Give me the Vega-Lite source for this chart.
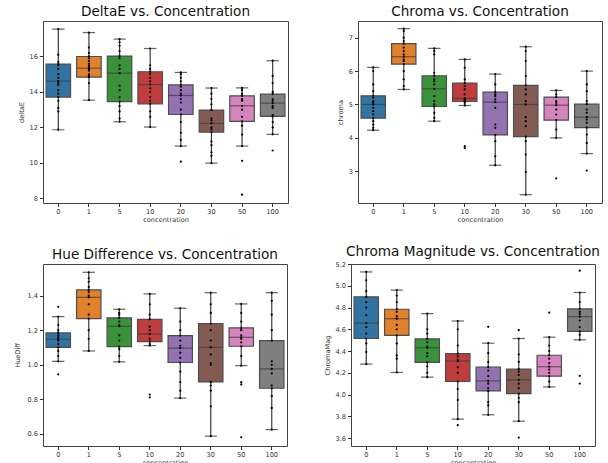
{
  "$schema": "https://vega.github.io/schema/vega-lite/v6.json",
  "padding": {"left": 13, "top": 4, "right": 0, "bottom": 0},
  "background": "white",
  "datasets": {
    "boxes": [
      {"m": "deltaE", "c": "0", "lo": 11.87, "q1": 13.71, "med": 14.61, "q3": 15.57, "hi": 17.54},
      {"m": "deltaE", "c": "1", "lo": 13.54, "q1": 14.84, "med": 15.34, "q3": 16.0, "hi": 17.35},
      {"m": "deltaE", "c": "5", "lo": 12.32, "q1": 13.46, "med": 15.06, "q3": 16.02, "hi": 16.98},
      {"m": "deltaE", "c": "10", "lo": 12.02, "q1": 13.33, "med": 14.42, "q3": 15.14, "hi": 16.45},
      {"m": "deltaE", "c": "20", "lo": 10.95, "q1": 12.73, "med": 13.8, "q3": 14.4, "hi": 15.1},
      {"m": "deltaE", "c": "30", "lo": 9.99, "q1": 11.74, "med": 12.23, "q3": 12.98, "hi": 14.22},
      {"m": "deltaE", "c": "50", "lo": 10.95, "q1": 12.34, "med": 13.22, "q3": 13.78, "hi": 14.23},
      {"m": "deltaE", "c": "100", "lo": 11.61, "q1": 12.62, "med": 13.37, "q3": 13.88, "hi": 15.76},
      {"m": "chroma", "c": "0", "lo": 4.23, "q1": 4.59, "med": 5.0, "q3": 5.26, "hi": 6.11},
      {"m": "chroma", "c": "1", "lo": 5.45, "q1": 6.21, "med": 6.43, "q3": 6.82, "hi": 7.27},
      {"m": "chroma", "c": "5", "lo": 4.5, "q1": 4.94, "med": 5.47, "q3": 5.86, "hi": 6.68},
      {"m": "chroma", "c": "10", "lo": 4.97, "q1": 5.09, "med": 5.18, "q3": 5.64, "hi": 6.35},
      {"m": "chroma", "c": "20", "lo": 3.18, "q1": 4.09, "med": 5.07, "q3": 5.37, "hi": 5.91},
      {"m": "chroma", "c": "30", "lo": 2.3, "q1": 4.04, "med": 5.0, "q3": 5.57, "hi": 6.73},
      {"m": "chroma", "c": "50", "lo": 4.0, "q1": 4.53, "med": 4.98, "q3": 5.22, "hi": 5.42},
      {"m": "chroma", "c": "100", "lo": 3.53, "q1": 4.31, "med": 4.62, "q3": 5.01, "hi": 6.0},
      {"m": "hue", "c": "0", "lo": 1.02, "q1": 1.101, "med": 1.148, "q3": 1.184, "hi": 1.279},
      {"m": "hue", "c": "1", "lo": 1.08, "q1": 1.267, "med": 1.39, "q3": 1.433, "hi": 1.535},
      {"m": "hue", "c": "5", "lo": 1.017, "q1": 1.105, "med": 1.223, "q3": 1.271, "hi": 1.321},
      {"m": "hue", "c": "10", "lo": 1.111, "q1": 1.134, "med": 1.178, "q3": 1.263, "hi": 1.41},
      {"m": "hue", "c": "20", "lo": 0.807, "q1": 1.013, "med": 1.096, "q3": 1.169, "hi": 1.327},
      {"m": "hue", "c": "30", "lo": 0.587, "q1": 0.901, "med": 1.101, "q3": 1.238, "hi": 1.417},
      {"m": "hue", "c": "50", "lo": 0.995, "q1": 1.107, "med": 1.159, "q3": 1.213, "hi": 1.352},
      {"m": "hue", "c": "100", "lo": 0.625, "q1": 0.864, "med": 0.976, "q3": 1.14, "hi": 1.417},
      {"m": "cmag", "c": "0", "lo": 4.28, "q1": 4.515, "med": 4.657, "q3": 4.898, "hi": 5.127},
      {"m": "cmag", "c": "1", "lo": 4.203, "q1": 4.543, "med": 4.697, "q3": 4.784, "hi": 4.96},
      {"m": "cmag", "c": "5", "lo": 4.16, "q1": 4.296, "med": 4.429, "q3": 4.512, "hi": 4.744},
      {"m": "cmag", "c": "10", "lo": 3.774, "q1": 4.12, "med": 4.308, "q3": 4.376, "hi": 4.676},
      {"m": "cmag", "c": "20", "lo": 3.814, "q1": 4.033, "med": 4.126, "q3": 4.253, "hi": 4.472},
      {"m": "cmag", "c": "30", "lo": 3.755, "q1": 4.008, "med": 4.135, "q3": 4.234, "hi": 4.515},
      {"m": "cmag", "c": "50", "lo": 4.07, "q1": 4.169, "med": 4.256, "q3": 4.361, "hi": 4.527},
      {"m": "cmag", "c": "100", "lo": 4.503, "q1": 4.58, "med": 4.716, "q3": 4.787, "hi": 4.938}
    ],
    "pts": [
      {"m":"deltaE","c":"0","v":11.87},{"m":"deltaE","c":"0","v":12.9},{"m":"deltaE","c":"0","v":13.1},{"m":"deltaE","c":"0","v":13.5},{"m":"deltaE","c":"0","v":13.71},{"m":"deltaE","c":"0","v":13.9},{"m":"deltaE","c":"0","v":14.1},{"m":"deltaE","c":"0","v":14.4},{"m":"deltaE","c":"0","v":14.5},{"m":"deltaE","c":"0","v":14.61},{"m":"deltaE","c":"0","v":14.8},{"m":"deltaE","c":"0","v":15.0},{"m":"deltaE","c":"0","v":15.3},{"m":"deltaE","c":"0","v":15.5},{"m":"deltaE","c":"0","v":15.57},{"m":"deltaE","c":"0","v":15.7},{"m":"deltaE","c":"0","v":16.1},{"m":"deltaE","c":"0","v":17.54},
      {"m":"deltaE","c":"1","v":13.54},{"m":"deltaE","c":"1","v":14.5},{"m":"deltaE","c":"1","v":14.84},{"m":"deltaE","c":"1","v":14.9},{"m":"deltaE","c":"1","v":15.0},{"m":"deltaE","c":"1","v":15.2},{"m":"deltaE","c":"1","v":15.3},{"m":"deltaE","c":"1","v":15.34},{"m":"deltaE","c":"1","v":15.4},{"m":"deltaE","c":"1","v":15.5},{"m":"deltaE","c":"1","v":15.6},{"m":"deltaE","c":"1","v":15.75},{"m":"deltaE","c":"1","v":15.9},{"m":"deltaE","c":"1","v":16.0},{"m":"deltaE","c":"1","v":16.2},{"m":"deltaE","c":"1","v":16.5},{"m":"deltaE","c":"1","v":17.35},
      {"m":"deltaE","c":"5","v":12.32},{"m":"deltaE","c":"5","v":12.5},{"m":"deltaE","c":"5","v":12.9},{"m":"deltaE","c":"5","v":13.2},{"m":"deltaE","c":"5","v":13.46},{"m":"deltaE","c":"5","v":13.7},{"m":"deltaE","c":"5","v":14.1},{"m":"deltaE","c":"5","v":14.35},{"m":"deltaE","c":"5","v":15.06},{"m":"deltaE","c":"5","v":15.3},{"m":"deltaE","c":"5","v":15.5},{"m":"deltaE","c":"5","v":15.9},{"m":"deltaE","c":"5","v":16.02},{"m":"deltaE","c":"5","v":16.3},{"m":"deltaE","c":"5","v":16.6},{"m":"deltaE","c":"5","v":16.8},{"m":"deltaE","c":"5","v":16.98},
      {"m":"deltaE","c":"10","v":12.02},{"m":"deltaE","c":"10","v":12.6},{"m":"deltaE","c":"10","v":12.9},{"m":"deltaE","c":"10","v":13.33},{"m":"deltaE","c":"10","v":13.5},{"m":"deltaE","c":"10","v":13.7},{"m":"deltaE","c":"10","v":14.0},{"m":"deltaE","c":"10","v":14.2},{"m":"deltaE","c":"10","v":14.42},{"m":"deltaE","c":"10","v":14.6},{"m":"deltaE","c":"10","v":14.8},{"m":"deltaE","c":"10","v":15.0},{"m":"deltaE","c":"10","v":15.14},{"m":"deltaE","c":"10","v":15.3},{"m":"deltaE","c":"10","v":15.5},{"m":"deltaE","c":"10","v":16.45},
      {"m":"deltaE","c":"20","v":10.07},{"m":"deltaE","c":"20","v":10.95},{"m":"deltaE","c":"20","v":11.3},{"m":"deltaE","c":"20","v":11.7},{"m":"deltaE","c":"20","v":12.3},{"m":"deltaE","c":"20","v":12.73},{"m":"deltaE","c":"20","v":13.0},{"m":"deltaE","c":"20","v":13.4},{"m":"deltaE","c":"20","v":13.6},{"m":"deltaE","c":"20","v":13.8},{"m":"deltaE","c":"20","v":13.9},{"m":"deltaE","c":"20","v":14.1},{"m":"deltaE","c":"20","v":14.3},{"m":"deltaE","c":"20","v":14.4},{"m":"deltaE","c":"20","v":14.6},{"m":"deltaE","c":"20","v":14.8},{"m":"deltaE","c":"20","v":15.0},{"m":"deltaE","c":"20","v":15.1},
      {"m":"deltaE","c":"30","v":9.99},{"m":"deltaE","c":"30","v":10.4},{"m":"deltaE","c":"30","v":10.6},{"m":"deltaE","c":"30","v":11.0},{"m":"deltaE","c":"30","v":11.2},{"m":"deltaE","c":"30","v":11.74},{"m":"deltaE","c":"30","v":11.9},{"m":"deltaE","c":"30","v":12.0},{"m":"deltaE","c":"30","v":12.23},{"m":"deltaE","c":"30","v":12.4},{"m":"deltaE","c":"30","v":12.5},{"m":"deltaE","c":"30","v":12.98},{"m":"deltaE","c":"30","v":13.3},{"m":"deltaE","c":"30","v":13.6},{"m":"deltaE","c":"30","v":13.9},{"m":"deltaE","c":"30","v":14.22},
      {"m":"deltaE","c":"50","v":8.21},{"m":"deltaE","c":"50","v":10.12},{"m":"deltaE","c":"50","v":10.95},{"m":"deltaE","c":"50","v":11.6},{"m":"deltaE","c":"50","v":12.1},{"m":"deltaE","c":"50","v":12.34},{"m":"deltaE","c":"50","v":12.6},{"m":"deltaE","c":"50","v":13.0},{"m":"deltaE","c":"50","v":13.22},{"m":"deltaE","c":"50","v":13.5},{"m":"deltaE","c":"50","v":13.6},{"m":"deltaE","c":"50","v":13.78},{"m":"deltaE","c":"50","v":13.9},{"m":"deltaE","c":"50","v":14.1},{"m":"deltaE","c":"50","v":14.23},
      {"m":"deltaE","c":"100","v":10.7},{"m":"deltaE","c":"100","v":11.61},{"m":"deltaE","c":"100","v":12.0},{"m":"deltaE","c":"100","v":12.3},{"m":"deltaE","c":"100","v":12.62},{"m":"deltaE","c":"100","v":12.7},{"m":"deltaE","c":"100","v":13.1},{"m":"deltaE","c":"100","v":13.2},{"m":"deltaE","c":"100","v":13.37},{"m":"deltaE","c":"100","v":13.5},{"m":"deltaE","c":"100","v":13.6},{"m":"deltaE","c":"100","v":13.88},{"m":"deltaE","c":"100","v":14.0},{"m":"deltaE","c":"100","v":14.5},{"m":"deltaE","c":"100","v":14.9},{"m":"deltaE","c":"100","v":15.76},
      {"m":"chroma","c":"0","v":4.23},{"m":"chroma","c":"0","v":4.3},{"m":"chroma","c":"0","v":4.4},{"m":"chroma","c":"0","v":4.5},{"m":"chroma","c":"0","v":4.59},{"m":"chroma","c":"0","v":4.7},{"m":"chroma","c":"0","v":4.8},{"m":"chroma","c":"0","v":4.9},{"m":"chroma","c":"0","v":5.0},{"m":"chroma","c":"0","v":5.05},{"m":"chroma","c":"0","v":5.1},{"m":"chroma","c":"0","v":5.2},{"m":"chroma","c":"0","v":5.26},{"m":"chroma","c":"0","v":5.4},{"m":"chroma","c":"0","v":5.6},{"m":"chroma","c":"0","v":6.0},{"m":"chroma","c":"0","v":6.11},
      {"m":"chroma","c":"1","v":5.45},{"m":"chroma","c":"1","v":5.55},{"m":"chroma","c":"1","v":5.75},{"m":"chroma","c":"1","v":6.0},{"m":"chroma","c":"1","v":6.21},{"m":"chroma","c":"1","v":6.3},{"m":"chroma","c":"1","v":6.35},{"m":"chroma","c":"1","v":6.43},{"m":"chroma","c":"1","v":6.5},{"m":"chroma","c":"1","v":6.6},{"m":"chroma","c":"1","v":6.7},{"m":"chroma","c":"1","v":6.82},{"m":"chroma","c":"1","v":6.9},{"m":"chroma","c":"1","v":7.0},{"m":"chroma","c":"1","v":7.2},{"m":"chroma","c":"1","v":7.27},
      {"m":"chroma","c":"5","v":4.5},{"m":"chroma","c":"5","v":4.6},{"m":"chroma","c":"5","v":4.75},{"m":"chroma","c":"5","v":4.94},{"m":"chroma","c":"5","v":5.0},{"m":"chroma","c":"5","v":5.1},{"m":"chroma","c":"5","v":5.25},{"m":"chroma","c":"5","v":5.47},{"m":"chroma","c":"5","v":5.6},{"m":"chroma","c":"5","v":5.7},{"m":"chroma","c":"5","v":5.75},{"m":"chroma","c":"5","v":5.86},{"m":"chroma","c":"5","v":5.95},{"m":"chroma","c":"5","v":6.5},{"m":"chroma","c":"5","v":6.6},{"m":"chroma","c":"5","v":6.68},
      {"m":"chroma","c":"10","v":3.69},{"m":"chroma","c":"10","v":3.75},{"m":"chroma","c":"10","v":4.97},{"m":"chroma","c":"10","v":5.05},{"m":"chroma","c":"10","v":5.09},{"m":"chroma","c":"10","v":5.12},{"m":"chroma","c":"10","v":5.15},{"m":"chroma","c":"10","v":5.18},{"m":"chroma","c":"10","v":5.3},{"m":"chroma","c":"10","v":5.45},{"m":"chroma","c":"10","v":5.55},{"m":"chroma","c":"10","v":5.64},{"m":"chroma","c":"10","v":5.75},{"m":"chroma","c":"10","v":6.1},{"m":"chroma","c":"10","v":6.35},
      {"m":"chroma","c":"20","v":3.18},{"m":"chroma","c":"20","v":3.45},{"m":"chroma","c":"20","v":3.9},{"m":"chroma","c":"20","v":4.09},{"m":"chroma","c":"20","v":4.3},{"m":"chroma","c":"20","v":4.4},{"m":"chroma","c":"20","v":4.9},{"m":"chroma","c":"20","v":5.07},{"m":"chroma","c":"20","v":5.15},{"m":"chroma","c":"20","v":5.25},{"m":"chroma","c":"20","v":5.3},{"m":"chroma","c":"20","v":5.37},{"m":"chroma","c":"20","v":5.6},{"m":"chroma","c":"20","v":5.91},
      {"m":"chroma","c":"30","v":2.3},{"m":"chroma","c":"30","v":2.98},{"m":"chroma","c":"30","v":3.5},{"m":"chroma","c":"30","v":3.9},{"m":"chroma","c":"30","v":4.04},{"m":"chroma","c":"30","v":4.35},{"m":"chroma","c":"30","v":4.5},{"m":"chroma","c":"30","v":4.62},{"m":"chroma","c":"30","v":5.0},{"m":"chroma","c":"30","v":5.1},{"m":"chroma","c":"30","v":5.3},{"m":"chroma","c":"30","v":5.45},{"m":"chroma","c":"30","v":5.57},{"m":"chroma","c":"30","v":5.85},{"m":"chroma","c":"30","v":6.3},{"m":"chroma","c":"30","v":6.6},{"m":"chroma","c":"30","v":6.73},
      {"m":"chroma","c":"50","v":2.79},{"m":"chroma","c":"50","v":4.0},{"m":"chroma","c":"50","v":4.25},{"m":"chroma","c":"50","v":4.53},{"m":"chroma","c":"50","v":4.7},{"m":"chroma","c":"50","v":4.85},{"m":"chroma","c":"50","v":4.98},{"m":"chroma","c":"50","v":5.05},{"m":"chroma","c":"50","v":5.1},{"m":"chroma","c":"50","v":5.22},{"m":"chroma","c":"50","v":5.3},{"m":"chroma","c":"50","v":5.42},
      {"m":"chroma","c":"100","v":3.02},{"m":"chroma","c":"100","v":3.53},{"m":"chroma","c":"100","v":3.85},{"m":"chroma","c":"100","v":4.1},{"m":"chroma","c":"100","v":4.31},{"m":"chroma","c":"100","v":4.45},{"m":"chroma","c":"100","v":4.55},{"m":"chroma","c":"100","v":4.62},{"m":"chroma","c":"100","v":4.75},{"m":"chroma","c":"100","v":4.85},{"m":"chroma","c":"100","v":5.01},{"m":"chroma","c":"100","v":5.1},{"m":"chroma","c":"100","v":5.4},{"m":"chroma","c":"100","v":5.6},{"m":"chroma","c":"100","v":6.0},
      {"m":"hue","c":"0","v":0.945},{"m":"hue","c":"0","v":1.02},{"m":"hue","c":"0","v":1.05},{"m":"hue","c":"0","v":1.08},{"m":"hue","c":"0","v":1.101},{"m":"hue","c":"0","v":1.12},{"m":"hue","c":"0","v":1.14},{"m":"hue","c":"0","v":1.148},{"m":"hue","c":"0","v":1.16},{"m":"hue","c":"0","v":1.17},{"m":"hue","c":"0","v":1.184},{"m":"hue","c":"0","v":1.2},{"m":"hue","c":"0","v":1.23},{"m":"hue","c":"0","v":1.279},{"m":"hue","c":"0","v":1.335},
      {"m":"hue","c":"1","v":1.08},{"m":"hue","c":"1","v":1.15},{"m":"hue","c":"1","v":1.2},{"m":"hue","c":"1","v":1.267},{"m":"hue","c":"1","v":1.29},{"m":"hue","c":"1","v":1.35},{"m":"hue","c":"1","v":1.39},{"m":"hue","c":"1","v":1.4},{"m":"hue","c":"1","v":1.42},{"m":"hue","c":"1","v":1.433},{"m":"hue","c":"1","v":1.45},{"m":"hue","c":"1","v":1.48},{"m":"hue","c":"1","v":1.5},{"m":"hue","c":"1","v":1.535},
      {"m":"hue","c":"5","v":1.017},{"m":"hue","c":"5","v":1.05},{"m":"hue","c":"5","v":1.09},{"m":"hue","c":"5","v":1.105},{"m":"hue","c":"5","v":1.14},{"m":"hue","c":"5","v":1.17},{"m":"hue","c":"5","v":1.223},{"m":"hue","c":"5","v":1.23},{"m":"hue","c":"5","v":1.25},{"m":"hue","c":"5","v":1.271},{"m":"hue","c":"5","v":1.29},{"m":"hue","c":"5","v":1.3},{"m":"hue","c":"5","v":1.321},
      {"m":"hue","c":"10","v":0.812},{"m":"hue","c":"10","v":0.828},{"m":"hue","c":"10","v":1.111},{"m":"hue","c":"10","v":1.12},{"m":"hue","c":"10","v":1.134},{"m":"hue","c":"10","v":1.15},{"m":"hue","c":"10","v":1.178},{"m":"hue","c":"10","v":1.2},{"m":"hue","c":"10","v":1.22},{"m":"hue","c":"10","v":1.263},{"m":"hue","c":"10","v":1.29},{"m":"hue","c":"10","v":1.35},{"m":"hue","c":"10","v":1.41},
      {"m":"hue","c":"20","v":0.807},{"m":"hue","c":"20","v":0.85},{"m":"hue","c":"20","v":0.9},{"m":"hue","c":"20","v":0.96},{"m":"hue","c":"20","v":1.013},{"m":"hue","c":"20","v":1.04},{"m":"hue","c":"20","v":1.07},{"m":"hue","c":"20","v":1.096},{"m":"hue","c":"20","v":1.11},{"m":"hue","c":"20","v":1.14},{"m":"hue","c":"20","v":1.169},{"m":"hue","c":"20","v":1.2},{"m":"hue","c":"20","v":1.25},{"m":"hue","c":"20","v":1.327},
      {"m":"hue","c":"30","v":0.587},{"m":"hue","c":"30","v":0.76},{"m":"hue","c":"30","v":0.85},{"m":"hue","c":"30","v":0.88},{"m":"hue","c":"30","v":0.901},{"m":"hue","c":"30","v":1.0},{"m":"hue","c":"30","v":1.01},{"m":"hue","c":"30","v":1.06},{"m":"hue","c":"30","v":1.101},{"m":"hue","c":"30","v":1.14},{"m":"hue","c":"30","v":1.2},{"m":"hue","c":"30","v":1.238},{"m":"hue","c":"30","v":1.3},{"m":"hue","c":"30","v":1.35},{"m":"hue","c":"30","v":1.417},
      {"m":"hue","c":"50","v":0.58},{"m":"hue","c":"50","v":0.886},{"m":"hue","c":"50","v":0.899},{"m":"hue","c":"50","v":0.995},{"m":"hue","c":"50","v":1.05},{"m":"hue","c":"50","v":1.107},{"m":"hue","c":"50","v":1.13},{"m":"hue","c":"50","v":1.15},{"m":"hue","c":"50","v":1.159},{"m":"hue","c":"50","v":1.17},{"m":"hue","c":"50","v":1.2},{"m":"hue","c":"50","v":1.213},{"m":"hue","c":"50","v":1.25},{"m":"hue","c":"50","v":1.3},{"m":"hue","c":"50","v":1.352},
      {"m":"hue","c":"100","v":0.625},{"m":"hue","c":"100","v":0.75},{"m":"hue","c":"100","v":0.82},{"m":"hue","c":"100","v":0.864},{"m":"hue","c":"100","v":0.88},{"m":"hue","c":"100","v":0.95},{"m":"hue","c":"100","v":0.976},{"m":"hue","c":"100","v":1.0},{"m":"hue","c":"100","v":1.02},{"m":"hue","c":"100","v":1.14},{"m":"hue","c":"100","v":1.2},{"m":"hue","c":"100","v":1.29},{"m":"hue","c":"100","v":1.37},{"m":"hue","c":"100","v":1.417},
      {"m":"cmag","c":"0","v":4.28},{"m":"cmag","c":"0","v":4.39},{"m":"cmag","c":"0","v":4.47},{"m":"cmag","c":"0","v":4.515},{"m":"cmag","c":"0","v":4.56},{"m":"cmag","c":"0","v":4.62},{"m":"cmag","c":"0","v":4.657},{"m":"cmag","c":"0","v":4.73},{"m":"cmag","c":"0","v":4.8},{"m":"cmag","c":"0","v":4.85},{"m":"cmag","c":"0","v":4.898},{"m":"cmag","c":"0","v":4.95},{"m":"cmag","c":"0","v":5.05},{"m":"cmag","c":"0","v":5.127},
      {"m":"cmag","c":"1","v":4.203},{"m":"cmag","c":"1","v":4.33},{"m":"cmag","c":"1","v":4.36},{"m":"cmag","c":"1","v":4.47},{"m":"cmag","c":"1","v":4.543},{"m":"cmag","c":"1","v":4.6},{"m":"cmag","c":"1","v":4.64},{"m":"cmag","c":"1","v":4.697},{"m":"cmag","c":"1","v":4.72},{"m":"cmag","c":"1","v":4.76},{"m":"cmag","c":"1","v":4.784},{"m":"cmag","c":"1","v":4.85},{"m":"cmag","c":"1","v":4.91},{"m":"cmag","c":"1","v":4.96},
      {"m":"cmag","c":"5","v":4.16},{"m":"cmag","c":"5","v":4.2},{"m":"cmag","c":"5","v":4.26},{"m":"cmag","c":"5","v":4.296},{"m":"cmag","c":"5","v":4.35},{"m":"cmag","c":"5","v":4.38},{"m":"cmag","c":"5","v":4.429},{"m":"cmag","c":"5","v":4.44},{"m":"cmag","c":"5","v":4.48},{"m":"cmag","c":"5","v":4.512},{"m":"cmag","c":"5","v":4.56},{"m":"cmag","c":"5","v":4.6},{"m":"cmag","c":"5","v":4.744},
      {"m":"cmag","c":"10","v":3.718},{"m":"cmag","c":"10","v":3.774},{"m":"cmag","c":"10","v":3.95},{"m":"cmag","c":"10","v":4.05},{"m":"cmag","c":"10","v":4.12},{"m":"cmag","c":"10","v":4.2},{"m":"cmag","c":"10","v":4.25},{"m":"cmag","c":"10","v":4.308},{"m":"cmag","c":"10","v":4.32},{"m":"cmag","c":"10","v":4.35},{"m":"cmag","c":"10","v":4.376},{"m":"cmag","c":"10","v":4.45},{"m":"cmag","c":"10","v":4.6},{"m":"cmag","c":"10","v":4.676},
      {"m":"cmag","c":"20","v":3.814},{"m":"cmag","c":"20","v":3.9},{"m":"cmag","c":"20","v":3.93},{"m":"cmag","c":"20","v":4.033},{"m":"cmag","c":"20","v":4.06},{"m":"cmag","c":"20","v":4.1},{"m":"cmag","c":"20","v":4.126},{"m":"cmag","c":"20","v":4.17},{"m":"cmag","c":"20","v":4.22},{"m":"cmag","c":"20","v":4.253},{"m":"cmag","c":"20","v":4.3},{"m":"cmag","c":"20","v":4.38},{"m":"cmag","c":"20","v":4.472},{"m":"cmag","c":"20","v":4.623},
      {"m":"cmag","c":"30","v":3.604},{"m":"cmag","c":"30","v":3.755},{"m":"cmag","c":"30","v":3.93},{"m":"cmag","c":"30","v":3.97},{"m":"cmag","c":"30","v":4.008},{"m":"cmag","c":"30","v":4.06},{"m":"cmag","c":"30","v":4.1},{"m":"cmag","c":"30","v":4.135},{"m":"cmag","c":"30","v":4.18},{"m":"cmag","c":"30","v":4.21},{"m":"cmag","c":"30","v":4.234},{"m":"cmag","c":"30","v":4.3},{"m":"cmag","c":"30","v":4.37},{"m":"cmag","c":"30","v":4.515},{"m":"cmag","c":"30","v":4.592},
      {"m":"cmag","c":"50","v":4.07},{"m":"cmag","c":"50","v":4.12},{"m":"cmag","c":"50","v":4.169},{"m":"cmag","c":"50","v":4.2},{"m":"cmag","c":"50","v":4.23},{"m":"cmag","c":"50","v":4.256},{"m":"cmag","c":"50","v":4.29},{"m":"cmag","c":"50","v":4.33},{"m":"cmag","c":"50","v":4.361},{"m":"cmag","c":"50","v":4.4},{"m":"cmag","c":"50","v":4.45},{"m":"cmag","c":"50","v":4.527},{"m":"cmag","c":"50","v":4.753},
      {"m":"cmag","c":"100","v":4.101},{"m":"cmag","c":"100","v":4.172},{"m":"cmag","c":"100","v":4.503},{"m":"cmag","c":"100","v":4.55},{"m":"cmag","c":"100","v":4.58},{"m":"cmag","c":"100","v":4.62},{"m":"cmag","c":"100","v":4.68},{"m":"cmag","c":"100","v":4.716},{"m":"cmag","c":"100","v":4.74},{"m":"cmag","c":"100","v":4.76},{"m":"cmag","c":"100","v":4.787},{"m":"cmag","c":"100","v":4.85},{"m":"cmag","c":"100","v":4.938},{"m":"cmag","c":"100","v":5.139}
    ]
  },
  "vconcat": [
    {
      "hconcat": [
        {
          "title": "DeltaE vs. Concentration",
          "width": 245, "height": 182,
          "layer": [
            {"data": {"name": "boxes"}, "transform": [{"filter": "datum.m == 'deltaE'"}],
             "mark": {"type": "rule", "color": "#3a3a3a", "strokeWidth": 1.2},
             "encoding": {
               "x": {"field": "c", "type": "ordinal", "sort": ["0","1","5","10","20","30","50","100"], "scale": {"domain": ["0","1","5","10","20","30","50","100"], "paddingInner": 0, "paddingOuter": 0}, "axis": {"title": "concentration", "titleColor": "#333", "labelAngle": 0, "bandPosition": 0.5, "labelPadding": 1.5, "titlePadding": 2}},
               "y": {"field": "lo", "type": "quantitative", "title": "deltaE", "scale": {"domain": [7.74, 18.0], "nice": false, "zero": false}, "axis": {"values": [8, 10, 12, 14, 16], "titlePadding": 5, "labelOverlap": false}},
               "y2": {"field": "hi"}}},
            {"data": {"name": "boxes"}, "transform": [{"filter": "datum.m == 'deltaE'"}],
             "mark": {"type": "bar", "width": {"band": 0.8}, "stroke": "#4d4d4d", "strokeWidth": 1.2},
             "encoding": {
               "x": {"field": "c", "type": "ordinal", "sort": ["0","1","5","10","20","30","50","100"]},
               "y": {"field": "q1", "type": "quantitative", "title": "deltaE"},
               "y2": {"field": "q3"},
               "color": {"field": "c", "type": "nominal", "scale": {"domain": ["0","1","5","10","20","30","50","100"], "range": ["#3274a1","#e1812c","#3a923a","#c03d3e","#9372b2","#845b53","#d684bd","#7f7f7f"]}, "legend": null}}},
            {"data": {"name": "boxes"}, "transform": [{"filter": "datum.m == 'deltaE'"}],
             "mark": {"type": "tick", "size": 24.5, "thickness": 1.2, "color": "#3a3a3a"},
             "encoding": {"x": {"field": "c", "type": "ordinal", "sort": ["0","1","5","10","20","30","50","100"]}, "y": {"field": "med", "type": "quantitative", "title": "deltaE"}}},
            {"data": {"name": "boxes"}, "transform": [{"filter": "datum.m == 'deltaE'"}],
             "mark": {"type": "tick", "size": 12.3, "thickness": 1.2, "color": "#222"},
             "encoding": {"x": {"field": "c", "type": "ordinal", "sort": ["0","1","5","10","20","30","50","100"]}, "y": {"field": "lo", "type": "quantitative", "title": "deltaE"}}},
            {"data": {"name": "boxes"}, "transform": [{"filter": "datum.m == 'deltaE'"}],
             "mark": {"type": "tick", "size": 12.3, "thickness": 1.2, "color": "#222"},
             "encoding": {"x": {"field": "c", "type": "ordinal", "sort": ["0","1","5","10","20","30","50","100"]}, "y": {"field": "hi", "type": "quantitative", "title": "deltaE"}}},
            {"data": {"name": "pts"}, "transform": [{"filter": "datum.m == 'deltaE'"}],
             "mark": {"type": "circle", "size": 5, "color": "black", "opacity": 1},
             "encoding": {"x": {"field": "c", "type": "ordinal", "sort": ["0","1","5","10","20","30","50","100"]}, "y": {"field": "v", "type": "quantitative", "title": "deltaE"}}}
          ]
        },
        {
          "title": "Chroma vs. Concentration",
          "width": 244, "height": 182,
          "layer": [
            {"data": {"name": "boxes"}, "transform": [{"filter": "datum.m == 'chroma'"}],
             "mark": {"type": "rule", "color": "#3a3a3a", "strokeWidth": 1.2},
             "encoding": {
               "x": {"field": "c", "type": "ordinal", "sort": ["0","1","5","10","20","30","50","100"], "scale": {"domain": ["0","1","5","10","20","30","50","100"], "paddingInner": 0, "paddingOuter": 0}, "axis": {"title": "concentration", "titleColor": "#333", "labelAngle": 0, "bandPosition": 0.5, "labelPadding": 1.5, "titlePadding": 2}},
               "y": {"field": "lo", "type": "quantitative", "title": "chroma", "scale": {"domain": [2.05, 7.5], "nice": false, "zero": false}, "axis": {"values": [3, 4, 5, 6, 7], "titlePadding": 5, "labelOverlap": false}},
               "y2": {"field": "hi"}}},
            {"data": {"name": "boxes"}, "transform": [{"filter": "datum.m == 'chroma'"}],
             "mark": {"type": "bar", "width": {"band": 0.8}, "stroke": "#4d4d4d", "strokeWidth": 1.2},
             "encoding": {
               "x": {"field": "c", "type": "ordinal", "sort": ["0","1","5","10","20","30","50","100"]},
               "y": {"field": "q1", "type": "quantitative", "title": "chroma"},
               "y2": {"field": "q3"},
               "color": {"field": "c", "type": "nominal", "scale": {"domain": ["0","1","5","10","20","30","50","100"], "range": ["#3274a1","#e1812c","#3a923a","#c03d3e","#9372b2","#845b53","#d684bd","#7f7f7f"]}, "legend": null}}},
            {"data": {"name": "boxes"}, "transform": [{"filter": "datum.m == 'chroma'"}],
             "mark": {"type": "tick", "size": 24.5, "thickness": 1.2, "color": "#3a3a3a"},
             "encoding": {"x": {"field": "c", "type": "ordinal", "sort": ["0","1","5","10","20","30","50","100"]}, "y": {"field": "med", "type": "quantitative", "title": "chroma"}}},
            {"data": {"name": "boxes"}, "transform": [{"filter": "datum.m == 'chroma'"}],
             "mark": {"type": "tick", "size": 12.3, "thickness": 1.2, "color": "#222"},
             "encoding": {"x": {"field": "c", "type": "ordinal", "sort": ["0","1","5","10","20","30","50","100"]}, "y": {"field": "lo", "type": "quantitative", "title": "chroma"}}},
            {"data": {"name": "boxes"}, "transform": [{"filter": "datum.m == 'chroma'"}],
             "mark": {"type": "tick", "size": 12.3, "thickness": 1.2, "color": "#222"},
             "encoding": {"x": {"field": "c", "type": "ordinal", "sort": ["0","1","5","10","20","30","50","100"]}, "y": {"field": "hi", "type": "quantitative", "title": "chroma"}}},
            {"data": {"name": "pts"}, "transform": [{"filter": "datum.m == 'chroma'"}],
             "mark": {"type": "circle", "size": 5, "color": "black", "opacity": 1},
             "encoding": {"x": {"field": "c", "type": "ordinal", "sort": ["0","1","5","10","20","30","50","100"]}, "y": {"field": "v", "type": "quantitative", "title": "chroma"}}}
          ]
        }
      ],
      "spacing": 47
    },
    {
      "hconcat": [
        {
          "title": "Hue Difference vs. Concentration",
          "width": 244, "height": 182,
          "layer": [
            {"data": {"name": "boxes"}, "transform": [{"filter": "datum.m == 'hue'"}],
             "mark": {"type": "rule", "color": "#3a3a3a", "strokeWidth": 1.2},
             "encoding": {
               "x": {"field": "c", "type": "ordinal", "sort": ["0","1","5","10","20","30","50","100"], "scale": {"domain": ["0","1","5","10","20","30","50","100"], "paddingInner": 0, "paddingOuter": 0}, "axis": {"title": "concentration", "titleColor": "#333", "labelAngle": 0, "bandPosition": 0.5, "labelPadding": 1.5, "titlePadding": 2}},
               "y": {"field": "lo", "type": "quantitative", "title": "HueDiff", "scale": {"domain": [0.53, 1.583], "nice": false, "zero": false}, "axis": {"values": [0.6, 0.8, 1.0, 1.2, 1.4], "format": ".1f", "titlePadding": 7, "labelOverlap": false}},
               "y2": {"field": "hi"}}},
            {"data": {"name": "boxes"}, "transform": [{"filter": "datum.m == 'hue'"}],
             "mark": {"type": "bar", "width": {"band": 0.8}, "stroke": "#4d4d4d", "strokeWidth": 1.2},
             "encoding": {
               "x": {"field": "c", "type": "ordinal", "sort": ["0","1","5","10","20","30","50","100"]},
               "y": {"field": "q1", "type": "quantitative", "title": "HueDiff"},
               "y2": {"field": "q3"},
               "color": {"field": "c", "type": "nominal", "scale": {"domain": ["0","1","5","10","20","30","50","100"], "range": ["#3274a1","#e1812c","#3a923a","#c03d3e","#9372b2","#845b53","#d684bd","#7f7f7f"]}, "legend": null}}},
            {"data": {"name": "boxes"}, "transform": [{"filter": "datum.m == 'hue'"}],
             "mark": {"type": "tick", "size": 24.5, "thickness": 1.2, "color": "#3a3a3a"},
             "encoding": {"x": {"field": "c", "type": "ordinal", "sort": ["0","1","5","10","20","30","50","100"]}, "y": {"field": "med", "type": "quantitative", "title": "HueDiff"}}},
            {"data": {"name": "boxes"}, "transform": [{"filter": "datum.m == 'hue'"}],
             "mark": {"type": "tick", "size": 12.3, "thickness": 1.2, "color": "#222"},
             "encoding": {"x": {"field": "c", "type": "ordinal", "sort": ["0","1","5","10","20","30","50","100"]}, "y": {"field": "lo", "type": "quantitative", "title": "HueDiff"}}},
            {"data": {"name": "boxes"}, "transform": [{"filter": "datum.m == 'hue'"}],
             "mark": {"type": "tick", "size": 12.3, "thickness": 1.2, "color": "#222"},
             "encoding": {"x": {"field": "c", "type": "ordinal", "sort": ["0","1","5","10","20","30","50","100"]}, "y": {"field": "hi", "type": "quantitative", "title": "HueDiff"}}},
            {"data": {"name": "pts"}, "transform": [{"filter": "datum.m == 'hue'"}],
             "mark": {"type": "circle", "size": 5, "color": "black", "opacity": 1},
             "encoding": {"x": {"field": "c", "type": "ordinal", "sort": ["0","1","5","10","20","30","50","100"]}, "y": {"field": "v", "type": "quantitative", "title": "HueDiff"}}}
          ]
        },
        {
          "title": "Chroma Magnitude vs. Concentration",
          "width": 244, "height": 182,
          "layer": [
            {"data": {"name": "boxes"}, "transform": [{"filter": "datum.m == 'cmag'"}],
             "mark": {"type": "rule", "color": "#3a3a3a", "strokeWidth": 1.2},
             "encoding": {
               "x": {"field": "c", "type": "ordinal", "sort": ["0","1","5","10","20","30","50","100"], "scale": {"domain": ["0","1","5","10","20","30","50","100"], "paddingInner": 0, "paddingOuter": 0}, "axis": {"title": "concentration", "titleColor": "#333", "labelAngle": 0, "bandPosition": 0.5, "labelPadding": 1.5, "titlePadding": 2}},
               "y": {"field": "lo", "type": "quantitative", "title": "ChromaMag", "scale": {"domain": [3.527, 5.2], "nice": false, "zero": false}, "axis": {"values": [3.6, 3.8, 4.0, 4.2, 4.4, 4.6, 4.8, 5.0, 5.2], "tickCount": 9, "format": ".1f", "titlePadding": 5, "labelOverlap": false, "labelSeparation": 0}},
               "y2": {"field": "hi"}}},
            {"data": {"name": "boxes"}, "transform": [{"filter": "datum.m == 'cmag'"}],
             "mark": {"type": "bar", "width": {"band": 0.8}, "stroke": "#4d4d4d", "strokeWidth": 1.2},
             "encoding": {
               "x": {"field": "c", "type": "ordinal", "sort": ["0","1","5","10","20","30","50","100"]},
               "y": {"field": "q1", "type": "quantitative", "title": "ChromaMag"},
               "y2": {"field": "q3"},
               "color": {"field": "c", "type": "nominal", "scale": {"domain": ["0","1","5","10","20","30","50","100"], "range": ["#3274a1","#e1812c","#3a923a","#c03d3e","#9372b2","#845b53","#d684bd","#7f7f7f"]}, "legend": null}}},
            {"data": {"name": "boxes"}, "transform": [{"filter": "datum.m == 'cmag'"}],
             "mark": {"type": "tick", "size": 24.5, "thickness": 1.2, "color": "#3a3a3a"},
             "encoding": {"x": {"field": "c", "type": "ordinal", "sort": ["0","1","5","10","20","30","50","100"]}, "y": {"field": "med", "type": "quantitative", "title": "ChromaMag"}}},
            {"data": {"name": "boxes"}, "transform": [{"filter": "datum.m == 'cmag'"}],
             "mark": {"type": "tick", "size": 12.3, "thickness": 1.2, "color": "#222"},
             "encoding": {"x": {"field": "c", "type": "ordinal", "sort": ["0","1","5","10","20","30","50","100"]}, "y": {"field": "lo", "type": "quantitative", "title": "ChromaMag"}}},
            {"data": {"name": "boxes"}, "transform": [{"filter": "datum.m == 'cmag'"}],
             "mark": {"type": "tick", "size": 12.3, "thickness": 1.2, "color": "#222"},
             "encoding": {"x": {"field": "c", "type": "ordinal", "sort": ["0","1","5","10","20","30","50","100"]}, "y": {"field": "hi", "type": "quantitative", "title": "ChromaMag"}}},
            {"data": {"name": "pts"}, "transform": [{"filter": "datum.m == 'cmag'"}],
             "mark": {"type": "circle", "size": 5, "color": "black", "opacity": 1},
             "encoding": {"x": {"field": "c", "type": "ordinal", "sort": ["0","1","5","10","20","30","50","100"]}, "y": {"field": "v", "type": "quantitative", "title": "ChromaMag"}}}
          ]
        }
      ],
      "spacing": 35
    }
  ],
  "spacing": 20,
  "config": {
    "font": "DejaVu Sans",
    "view": {"stroke": "#444", "strokeWidth": 1},
    "axis": {"domain": false, "grid": false, "labelFontSize": 6.6, "titleFontSize": 6.6, "titleFontWeight": "normal", "labelColor": "#333", "titleColor": "#333", "tickColor": "#333", "tickSize": 3.5, "labelPadding": 2, "labelOverlap": false},
    "title": {"fontSize": 13.6, "fontWeight": "normal", "color": "#111", "offset": 2}
  }
}
